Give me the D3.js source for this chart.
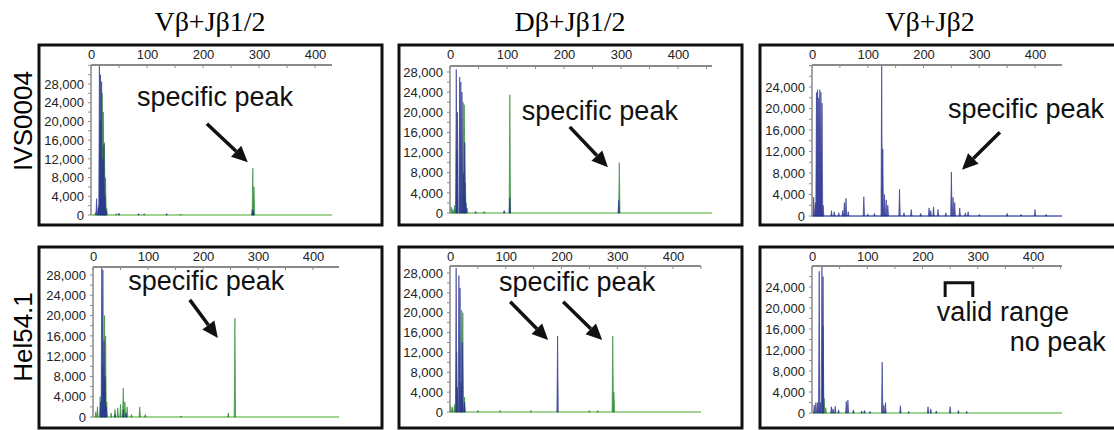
<!DOCTYPE html>
<html lang="en">
<head>
<meta charset="utf-8">
<title>TCR beta clonality - fragment analysis</title>
<script src="https://cdn.jsdelivr.net/npm/d3@7"></script>
<style>
  body { margin: 0; background: #fff; }
  svg { font-family: "Liberation Sans", Arial, sans-serif; }
</style>
</head>
<body>
<script>
// column titles and sample names
const titles = ["Vβ+Jβ1/2", "Dβ+Jβ1/2", "Vβ+Jβ2"];
const samples = ["IVS0004", "Hel54.1"];

// tick labels
const xTickValues = [0, 100, 200, 300, 400];
const yTicksFull = [0, 4000, 8000, 12000, 16000, 20000, 24000, 28000];
const yTicksShort = [0, 4000, 8000, 12000, 16000, 20000, 24000];

// peaks: [fragment size, fluorescence]
const ivsVJ12Blue = [[10,3500],[13,1500],[15,32000],[17,30000],[19,28500],[21,12000],[23,15000],[25,4000],[27,1000],
  [50,400],[85,300],[135,300],[288,1200],[290,800]];
const ivsVJ12Green = [[8,500],[14,2000],[17,20000],[20,26000],[22,22000],[24,15500],[26,8000],[28,1500],
  [45,300],[95,300],[160,200],[289,10000],[291,6000]];

const ivsDJ12Blue = [[11,28500],[13,20000],[17,27000],[19,26000],[21,24000],[24,8000],[26,14000],[28,2000],
  [45,300],[95,500],[105,3000],[296,2500]];
const ivsDJ12Green = [[2,1200],[5,800],[8,1500],[12,12500],[23,22000],[25,21500],[27,6000],[30,1000],
  [60,300],[105,23500],[297,10000]];

const ivsVJ2Blue = [[3,3500],[6,2500],[8,23000],[10,23500],[12,22000],[14,23500],[16,23000],[18,21000],[20,2000],
  [35,1000],[40,800],[48,600],[55,1000],[58,2500],[61,3300],[65,800],[93,3600],[100,400],[112,500],
  [125,28000],[127,12500],[130,4000],[133,3000],[136,2000],[157,5000],[165,600],[178,1200],[195,500],
  [210,1500],[213,1000],[218,1700],[226,1200],[240,600],[250,8200],[253,3500],[256,2500],[265,1500],
  [275,600],[280,800],[300,300],[350,500],[375,300],[400,1200],[420,300]];
const ivsVJ2Green = [];

const helVJ12Blue = [[14,3000],[16,29500],[18,29000],[20,15000],[22,8000],[24,2000],[40,500],[55,1500],[60,800]];
const helVJ12Green = [[5,1000],[8,2000],[13,4000],[17,10000],[21,20000],[23,16000],[25,3000],[33,800],[40,1500],
  [45,1800],[50,2500],[55,5700],[58,3000],[62,2000],[70,500],[85,2000],[95,500],[160,200],[246,800],[258,19500]];

const helDJ12Blue = [[11,29000],[13,5000],[16,27500],[18,25000],[20,6000],[22,14000],[26,2000],[193,15300]];
const helDJ12Green = [[1,1200],[4,1000],[8,1500],[12,12000],[21,20500],[23,20000],[26,3000],[50,300],[90,300],
  [145,300],[250,300],[265,300],[292,15300],[294,4000]];

const helVJ2Blue = [[4,1500],[7,2000],[10,2000],[13,27000],[15,2000],[18,28000],[20,26000],[35,1200],[38,800],
  [42,1300],[48,600],[62,2200],[65,2500],[75,600],[90,400],[95,500],[105,300],[127,9700],[130,1500],[133,2000],
  [160,1400],[175,300],[210,1200],[215,800],[225,400],[250,1200],[265,500],[280,300]];
const helVJ2Green = [[20,16500],[22,2800],[25,1000]];

// annotations in data units: text [x, y, label], arrows [x1, y1, x2, y2]
const notes = [
  { texts: [[82, 23400, "specific peak"]], arrows: [[207, 19500, 280, 11300]] },
  { texts: [[126, 18400, "specific peak"]], arrows: [[210, 17100, 277, 9100]] },
  { texts: [[244, 18200, "specific peak"]], arrows: [[337, 15600, 269, 8600]] },
  { texts: [[64, 25000, "specific peak"]], arrows: [[176, 23100, 227, 15600]] },
  { texts: [[88, 24400, "specific peak"]], arrows: [[108, 22200, 176, 14500], [203, 22200, 273, 14500]] },
  { texts: [[226, 17500, "valid range"], [358, 11800, "no peak"]], arrows: [], bracket: [241, 291, 24800, 22100] }
];

const blue = "#3641a4", blueDark = "#262f8a", green = "#34993b", baseGreen = "#82c46e";

const panels = [
  { blue: ivsVJ12Blue, green: ivsVJ12Green, yTicks: yTicksFull,
    box: [39, 45, 343, 180], x0: 91, px100: 56, xEnd: 332, axisY: 65, labelY: 54, zeroY: 215, topY: 84 },
  { blue: ivsDJ12Blue, green: ivsDJ12Green, yTicks: yTicksFull,
    box: [399, 45, 343, 180], x0: 450, px100: 57, xEnd: 712, axisY: 66, labelY: 54, zeroY: 213, topY: 72 },
  { blue: ivsVJ2Blue, green: ivsVJ2Green, yTicks: yTicksShort, baseColor: "#5560b0",
    box: [760, 45, 380, 180], x0: 812, px100: 55.75, xEnd: 1062, axisY: 65, labelY: 54, zeroY: 216, topY: 87 },
  { blue: helVJ12Blue, green: helVJ12Green, yTicks: yTicksFull,
    box: [39, 247, 343, 181], x0: 93, px100: 55, xEnd: 339, axisY: 267, labelY: 256, zeroY: 417, topY: 275 },
  { blue: helDJ12Blue, green: helDJ12Green, yTicks: yTicksFull,
    box: [399, 247, 343, 181], x0: 450, px100: 55.75, xEnd: 701, axisY: 266, labelY: 256, zeroY: 412, topY: 273 },
  { blue: helVJ2Blue, green: helVJ2Green, yTicks: yTicksShort,
    box: [760, 247, 380, 181], x0: 812, px100: 55.25, xEnd: 1062, axisY: 266, labelY: 256, zeroY: 413, topY: 287 }
];

const w = 1114, h = 430;
const svg = d3.select("body").append("svg")
  .attr("width", w).attr("height", h);

// column titles
const titleX = [210, 570, 930];
svg.selectAll("text.title")
  .data(titles)
  .enter().append("text")
  .attr("class", "title")
  .attr("x", (d, i) => titleX[i])
  .attr("y", 31)
  .attr("text-anchor", "middle")
  .style("font-family", "'Liberation Serif', 'Times New Roman', serif")
  .style("font-size", "28px")
  .text(d => d);

// row labels
const rowY = [121, 337];
svg.selectAll("text.sample")
  .data(samples)
  .enter().append("text")
  .attr("class", "sample")
  .attr("transform", (d, i) => `translate(32,${rowY[i]}) rotate(-90)`)
  .attr("text-anchor", "middle")
  .style("font-size", "26px")
  .text(d => d);

const peakHalf = 1.3;

panels.forEach(function(p, i) {
  const g = svg.append("g");
  const x = d3.scaleLinear().domain([0, 400]).range([p.x0, p.x0 + 4 * p.px100]);
  const topVal = p.yTicks === yTicksFull ? 28000 : 24000;
  const y = d3.scaleLinear().domain([0, topVal]).range([p.zeroY, p.topY]);
  const xMax = x.invert(p.xEnd);

  // clip so tall peaks stop at the top axis
  g.append("clipPath").attr("id", "clip" + i)
    .append("rect")
    .attr("x", p.x0).attr("y", p.axisY)
    .attr("width", p.xEnd - p.x0).attr("height", p.zeroY - p.axisY + 1);

  const plot = g.append("g").attr("clip-path", `url(#clip${i})`);

  const area = d3.area()
    .x(d => x(d[0]))
    .y0(p.zeroY)
    .y1(d => y(d[1]));
  const shape = d => [[d[0] - peakHalf, 0], [d[0], d[1]], [d[0] + peakHalf, 0]];

  // baseline
  plot.append("line")
    .attr("x1", p.x0).attr("x2", p.xEnd)
    .attr("y1", p.zeroY).attr("y2", p.zeroY)
    .attr("stroke", p.baseColor || baseGreen)
    .attr("stroke-width", 1.6);

  plot.selectAll("path.green")
    .data(p.green)
    .enter().append("path")
    .attr("class", "green")
    .attr("d", d => area(shape(d)))
    .attr("fill", green)
    .attr("fill-opacity", 0.85)
    .attr("stroke", "#2a852f")
    .attr("stroke-width", 0.6);

  plot.selectAll("path.blue")
    .data(p.blue)
    .enter().append("path")
    .attr("class", "blue")
    .attr("d", d => area(shape(d)))
    .attr("fill", blue)
    .attr("fill-opacity", 0.8)
    .attr("stroke", blueDark)
    .attr("stroke-width", 0.6);

  // top x axis line with small ticks
  g.append("line")
    .attr("x1", p.x0).attr("x2", p.xEnd)
    .attr("y1", p.axisY).attr("y2", p.axisY)
    .attr("stroke", "#8a8a8a").attr("stroke-width", 2);
  g.selectAll("line.xt")
    .data(d3.range(0, xMax + 1, 50))
    .enter().append("line")
    .attr("class", "xt")
    .attr("x1", d => x(d)).attr("x2", d => x(d))
    .attr("y1", p.axisY).attr("y2", p.axisY + 3)
    .attr("stroke", "#8a8a8a");

  const xAxis = d3.axisTop(x).tickValues(xTickValues).tickSize(0).tickPadding(0);
  g.append("g")
    .attr("transform", `translate(0,${p.labelY + 5})`)
    .call(xAxis)
    .call(a => a.select(".domain").remove())
    .selectAll("text")
    .style("font-size", "13px")
    .style("fill", "#222");

  // left y axis
  g.append("line")
    .attr("x1", p.x0).attr("x2", p.x0)
    .attr("y1", p.axisY).attr("y2", p.zeroY)
    .attr("stroke", "#8a8a8a").attr("stroke-width", 1.5);
  g.selectAll("line.yt")
    .data(d3.range(0, y.invert(p.axisY), 2000))
    .enter().append("line")
    .attr("class", "yt")
    .attr("x1", p.x0 - 3).attr("x2", p.x0)
    .attr("y1", d => y(d)).attr("y2", d => y(d))
    .attr("stroke", "#8a8a8a");

  const yAxis = d3.axisLeft(y).tickValues(p.yTicks).tickSize(0).tickPadding(7)
    .tickFormat(d3.format(","));
  g.append("g")
    .attr("transform", `translate(${p.x0},0)`)
    .call(yAxis)
    .call(a => a.select(".domain").remove())
    .selectAll("text")
    .style("font-size", "13px")
    .style("fill", "#222");

  // panel frame
  g.append("rect")
    .attr("x", p.box[0]).attr("y", p.box[1])
    .attr("width", p.box[2]).attr("height", p.box[3])
    .attr("fill", "none")
    .attr("stroke", "#111")
    .attr("stroke-width", 3);

  // annotations
  const n = notes[i];
  g.selectAll("text.note")
    .data(n.texts)
    .enter().append("text")
    .attr("class", "note")
    .attr("x", d => x(d[0]))
    .attr("y", d => y(d[1]))
    .style("font-size", "27px")
    .style("fill", "#111")
    .text(d => d[2]);

  n.arrows.forEach(function(a) {
    const x1 = x(a[0]), y1 = y(a[1]), x2 = x(a[2]), y2 = y(a[3]);
    const ang = Math.atan2(y2 - y1, x2 - x1);
    const len = 16, half = 7.5;
    const bx = x2 - len * Math.cos(ang), by = y2 - len * Math.sin(ang);
    g.append("line")
      .attr("x1", x1).attr("y1", y1).attr("x2", bx).attr("y2", by)
      .attr("stroke", "#111").attr("stroke-width", 3.5);
    g.append("path")
      .attr("d", d3.line()([
        [x2, y2],
        [bx + half * Math.sin(ang), by - half * Math.cos(ang)],
        [bx - half * Math.sin(ang), by + half * Math.cos(ang)]
      ]) + "Z")
      .attr("fill", "#111");
  });

  if (n.bracket) {
    const b = n.bracket;
    g.append("path")
      .attr("d", d3.line()([[x(b[0]), y(b[3])], [x(b[0]), y(b[2])], [x(b[1]), y(b[2])], [x(b[1]), y(b[3])]]))
      .attr("fill", "none")
      .attr("stroke", "#111")
      .attr("stroke-width", 3);
  }
});
</script>
</body>
</html>
